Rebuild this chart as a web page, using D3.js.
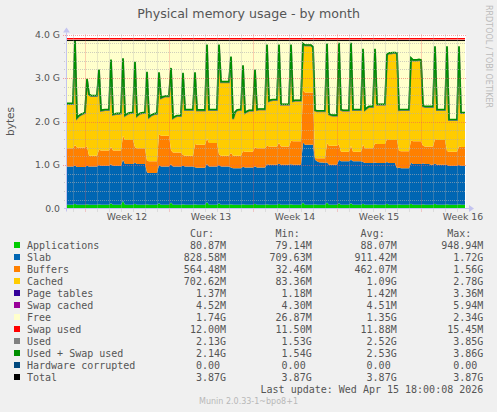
<!DOCTYPE html>
<html>
<head>
<meta charset="utf-8">
<script src="https://cdn.jsdelivr.net/npm/d3@7"></script>
<style>
  body { margin: 0; background: #f0f0f0; }
  svg { display: block; font-family: "DejaVu Sans", sans-serif; }
  .mono { font-family: "DejaVu Sans Mono", monospace; font-size: 10px; fill: #555; }
</style>
</head>
<body>
<div id="chart"></div>
<script>
// samples every 4 hours, first one at Mar 14 2026 12:00 UTC
const startTime = new Date(Date.UTC(2026, 2, 14, 12, 0));
const endTime = new Date(Date.UTC(2026, 3, 16, 18, 0));
const stepHours = 4;

// values in G, one row = one day (6 samples)
const apps = [
  .085,.085,.085,.085,.11,.085, .085,.085,.085,.085,.10,.085, .085,.085,.085,.085,.10,.085,
  .085,.085,.085,.085,.12,.085, .085,.085,.085,.085,.18,.085, .085,.085,.085,.085,.11,.085,
  .085,.085,.085,.085,.10,.085, .085,.085,.085,.085,.12,.085, .085,.085,.085,.085,.14,.085,
  .085,.085,.085,.085,.10,.085, .085,.085,.085,.085,.10,.085, .085,.085,.085,.085,.15,.085,
  .085,.085,.085,.085,.12,.085, .085,.085,.085,.085,.10,.085, .085,.085,.085,.085,.10,.085,
  .085,.085,.085,.085,.11,.085, .085,.085,.085,.085,.10,.085, .085,.085,.085,.085,.11,.085,
  .085,.085,.085,.085,.10,.085, .085,.085,.085,.085,.14,.085, .085,.085,.085,.085,.10,.085,
  .085,.085,.085,.085,.14,.085, .085,.085,.085,.085,.12,.085, .085,.085,.085,.085,.12,.085,
  .085,.085,.085,.085,.11,.085, .085,.085,.085,.085,.10,.085, .085,.085,.085,.085,.11,.085,
  .085,.085,.085,.085,.10,.085, .085,.085,.085,.085,.11,.085, .085,.085,.085,.085,.10,.085,
  .085,.085,.085,.085,.11,.085, .085,.085,.085,.085,.10,.085, .085,.085,.085,.085,.10,.085,
  .085,.085
];
const slab = [
  .88,.88,.88,.88,.88,.87, .87,.87,.87,.87,.88,.88, .88,.88,.88,.88,.90,.90,
  .90,.90,.90,.90,.90,.90, .90,.90,.90,.90,.94,.94, .94,.94,.94,.94,.94,.94,
  .94,.94,.94,.94,.73,.73, .73,.73,.73,.73,.88,.88, .88,.88,.88,.88,.88,.88,
  .88,.88,.88,.88,.88,.88, .88,.88,.88,.88,.85,.85, .85,.85,.85,.85,.88,.88,
  .88,.88,.88,.88,.88,.88, .88,.88,.88,.88,.84,.84, .84,.84,.84,.84,.86,.86,
  .86,.86,.86,.86,.86,.86, .86,.86,.86,.86,.92,.92, .92,.92,.92,.92,.92,.92,
  .92,.92,.92,.92,.92,.92, .92,.92,.92,.92,1.38,1.38, 1.38,1.38,1.38,1.38,1.02,1.00,
  .98,.97,.97,.96,.92,.92, .92,.92,.92,.92,1.00,1.00, 1.00,1.00,1.00,1.00,1.00,1.00,
  1.00,1.00,1.00,1.00,.96,.96, .96,.96,.96,.96,.96,.96, .96,.96,.96,.96,.96,.96,
  .96,.96,.96,.84,.84,.84, .84,.84,.84,.84,.94,.94, .94,.94,.94,.94,.94,.94,
  .94,.94,.92,.92,.92,.92, .92,.92,.92,.92,.90,.90, .90,.90,.90,.90,.90,.90,
  .90,.90
];
const buffers = [
  .42,.42,.42,.42,.47,.45, .45,.45,.45,.45,.45,.25, .25,.25,.25,.25,.35,.35,
  .35,.35,.35,.35,.40,.35, .35,.35,.35,.35,.55,.55, .55,.55,.55,.55,.36,.36,
  .36,.36,.36,.36,.27,.27, .27,.27,.27,.27,.71,.71, .71,.71,.71,.71,.32,.32,
  .32,.32,.32,.32,.25,.25, .25,.25,.25,.25,.53,.53, .53,.53,.53,.53,.58,.54,
  .54,.54,.54,.54,.25,.25, .25,.25,.25,.25,.34,.29, .29,.29,.29,.29,.36,.36,
  .36,.36,.36,.36,.44,.44, .44,.44,.44,.44,.42,.42, .42,.42,.42,.42,.48,.42,
  .42,.42,.42,.42,.54,.54, .54,.54,.54,.54,1.20,1.20, 1.20,1.20,1.20,1.20,.04,.07,
  .09,.10,.10,.11,.44,.44, .44,.44,.44,.44,.35,.22, .22,.22,.22,.22,.32,.22,
  .22,.22,.22,.22,.40,.34, .34,.34,.34,.34,.44,.44, .44,.44,.44,.44,.53,.53,
  .53,.53,.53,.65,.39,.39, .39,.39,.39,.39,.52,.52, .52,.52,.52,.52,.40,.40,
  .40,.40,.42,.42,.57,.57, .57,.57,.57,.57,.32,.32, .32,.32,.32,.32,.43,.43,
  .43,.43
];
const cached = [
  1.02,1.02,1.02,1.02,2.39,.67, .72,.75,.77,.79,1.54,1.40, 1.37,1.37,1.37,1.37,1.83,.91,
  .92,.93,.93,.93,1.99,.82, .83,.84,.84,.85,1.77,.56, .59,.61,.62,.62,1.95,.74,
  .78,.80,.81,.81,2.03,1.01, 1.05,1.07,1.09,1.09,1.41,.86, .88,.90,.90,.90,1.88,.79,
  .82,.84,.84,.84,1.88,1.05, 1.05,1.05,1.05,1.05,1.64,.79, .79,.79,.79,.79,2.15,.76,
  .76,.76,.76,.76,2.51,1.69, 1.69,1.69,1.69,1.69,2.20,.84, .99,1.04,1.05,1.05,1.96,.89,
  .92,.94,.94,.94,1.77,.88, .89,.89,.89,.89,2.32,1.04, 1.06,1.07,1.07,1.07,2.25,.96,
  .96,.96,.96,.96,2.20,.92, .93,.93,.93,.93,1.06,1.08, 1.08,1.08,1.08,1.04,1.09,1.08,
  1.08,1.08,1.08,1.08,2.28,.72, .70,.69,.69,.69,2.33,.96, .94,.94,.94,.94,2.36,.96,
  .96,.96,.96,.96,2.19,.88, .92,.95,.95,.95,2.16,.90, .90,.90,.90,.90,1.93,1.99,
  1.99,2.00,2.00,1.99,.93,.95, .95,.95,.95,.95,1.88,1.86, 1.86,1.86,1.87,1.86,.91,.91,
  .91,.91,.91,.91,2.12,.69, .69,.69,.69,.69,2.40,.73, .73,.73,.73,.73,2.29,.78,
  .78,.78
];
const swapUsed = 0.012;
const totalMem = 3.87;

const weekLabels = ["Week 12", "Week 13", "Week 14", "Week 15", "Week 16"];
const yTicks = [0, 1, 2, 3, 4];
const yTickLabels = ["0.0", "1.0 G", "2.0 G", "3.0 G", "4.0 G"];

const legendNames = ["Applications", "Slab", "Buffers", "Cached", "Page tables", "Swap cached",
  "Free", "Swap used", "Used", "Used + Swap used", "Hardware corrupted", "Total"];
const legendColors = ["#00cc00", "#0066b3", "#ff8000", "#ffcc00", "#330099", "#990099",
  "#ffffcc", "#ff0000", "#808080", "#008f00", "#00487d", "#000000"];
const curVals = ["80.87M", "828.58M", "564.48M", "702.62M", "1.37M", "4.52M", "1.74G", "12.00M", "2.13G", "2.14G", "0.00", "3.87G"];
const minVals = ["79.14M", "709.63M", "32.46M", "83.36M", "1.18M", "4.30M", "26.87M", "11.50M", "1.53G", "1.54G", "0.00", "3.87G"];
const avgVals = ["88.07M", "911.42M", "462.07M", "1.09G", "1.42M", "4.51M", "1.35G", "11.88M", "2.52G", "2.53G", "0.00", "3.87G"];
const maxVals = ["948.94M", "1.72G", "1.56G", "2.78G", "3.36M", "5.94M", "2.34G", "15.45M", "3.85G", "3.86G", "0.00", "3.87G"];
const statHeads = ["Cur:", "Min:", "Avg:", "Max:"];

const W = 497, H = 412;
const plotLeft = 67, plotRight = 466, plotTop = 34.5, plotBottom = 208.5;

const x = d3.scaleUtc().domain([startTime, endTime]).range([plotLeft, plotRight]);
const y = d3.scaleLinear().domain([0, 4]).range([plotBottom, plotTop]);

const rows = apps.map((a, i) => ({
  t: d3.utcHour.offset(startTime, i * stepHours),
  apps: a, slab: slab[i], buffers: buffers[i], cached: cached[i]
}));
const series = d3.stack().keys(["apps", "slab", "buffers", "cached"])(rows);
const used = series[3].map(d => ({ t: d.data.t, v: d[1] }));

const svg = d3.select("#chart").append("svg").attr("width", W).attr("height", H);
svg.append("rect").attr("width", W).attr("height", H).attr("fill", "#f0f0f0");

svg.append("clipPath").attr("id", "plot")
  .append("rect").attr("x", plotLeft).attr("y", plotTop - 2)
  .attr("width", plotRight - plotLeft).attr("height", plotBottom - plotTop + 2);

// canvas
svg.append("rect").attr("x", plotLeft).attr("y", plotTop)
  .attr("width", plotRight - plotLeft).attr("height", plotBottom - plotTop)
  .attr("fill", "#ffffff");

const g = svg.append("g").attr("clip-path", "url(#plot)");

const area = d3.area().x(d => x(d.data.t)).y0(d => y(d[0])).y1(d => y(d[1]));
g.selectAll("path.layer")
  .data(series)
  .enter()
  .append("path")
    .attr("class", "layer")
    .attr("d", area)
    .attr("fill", (d, i) => legendColors[i]);

// free: from used up to total
g.append("path")
  .datum(used)
  .attr("d", d3.area().x(d => x(d.t)).y0(d => y(d.v)).y1(y(totalMem)))
  .attr("fill", "#ffffcc");

// grid on top of the areas
const minorCol = "rgba(175,175,175,0.6)";
const majorCol = "rgba(240,90,90,0.55)";
const minorY = d3.range(1, 20).map(k => k * 0.2).filter(v => Math.abs(v - Math.round(v)) > 1e-6);
svg.append("g").selectAll("line").data(minorY).enter().append("line")
  .attr("x1", plotLeft - 3).attr("x2", plotRight)
  .attr("y1", d => Math.round(y(d)) + 0.5).attr("y2", d => Math.round(y(d)) + 0.5)
  .attr("stroke", minorCol).attr("stroke-dasharray", "1,1");

const days = d3.utcDay.range(startTime, endTime).filter(d => d.getUTCDay() !== 1);
svg.append("g").selectAll("line").data(days).enter().append("line")
  .attr("x1", d => Math.round(x(d)) + 0.5).attr("x2", d => Math.round(x(d)) + 0.5)
  .attr("y1", plotTop).attr("y2", plotBottom + 3)
  .attr("stroke", minorCol).attr("stroke-dasharray", "1,1");

svg.append("g").selectAll("line").data(yTicks.slice(1)).enter().append("line")
  .attr("x1", plotLeft - 4).attr("x2", plotRight)
  .attr("y1", d => Math.round(y(d)) + 0.5).attr("y2", d => Math.round(y(d)) + 0.5)
  .attr("stroke", majorCol).attr("stroke-dasharray", "1,1");

const mondays = d3.utcMonday.range(startTime, endTime);
svg.append("g").selectAll("line").data(mondays).enter().append("line")
  .attr("x1", d => Math.round(x(d)) + 0.5).attr("x2", d => Math.round(x(d)) + 0.5)
  .attr("y1", plotTop).attr("y2", plotBottom + 4)
  .attr("stroke", majorCol).attr("stroke-dasharray", "1,1");

// lines
const line = d3.line().x(d => x(d.t)).y(d => y(d.v));
g.append("path").datum(used).attr("d", line)
  .attr("fill", "none").attr("stroke", "#808080").attr("stroke-width", 2);
g.append("path").datum(used.map(d => ({ t: d.t, v: d.v + swapUsed }))).attr("d", line)
  .attr("fill", "none").attr("stroke", "#008f00").attr("stroke-width", 1.6);
g.append("path").datum(used.map(d => ({ t: d.t, v: totalMem }))).attr("d", line)
  .attr("fill", "none").attr("stroke", "#000000").attr("stroke-width", 1)
  .attr("transform", "translate(0,0.4)");
g.append("path").datum(used.map(d => ({ t: d.t, v: totalMem + swapUsed }))).attr("d", line)
  .attr("fill", "none").attr("stroke", "#ff0000").attr("stroke-width", 1.6)
  .attr("transform", "translate(0,-0.9)");

// axes
const axisCol = "#c4c4f0";
svg.append("line").attr("x1", plotLeft - 3).attr("x2", plotRight + 4)
  .attr("y1", plotBottom).attr("y2", plotBottom).attr("stroke", axisCol);
svg.append("path")
  .attr("d", `M${plotRight + 8},${plotBottom} L${plotRight + 3},${plotBottom - 3.5} L${plotRight + 3},${plotBottom + 3.5} Z`)
  .attr("fill", axisCol);
svg.append("line").attr("x1", plotLeft - 0.5).attr("x2", plotLeft - 0.5)
  .attr("y1", plotBottom + 3).attr("y2", plotTop - 2).attr("stroke", axisCol);
svg.append("path")
  .attr("d", `M${plotLeft - 0.5},${plotTop - 7} L${plotLeft - 4},${plotTop - 2} L${plotLeft + 3},${plotTop - 2} Z`)
  .attr("fill", axisCol);

// tick labels
svg.append("g").selectAll("text").data(yTicks).enter().append("text")
  .attr("x", 60).attr("y", d => y(d) + 3.4)
  .attr("text-anchor", "end").attr("font-size", "9.3px").attr("fill", "#555")
  .text((d, i) => yTickLabels[i]);

svg.append("g").selectAll("text").data(mondays).enter().append("text")
  .attr("x", d => x(d3.utcHour.offset(d, 84)))
  .attr("y", 220)
  .attr("text-anchor", "middle").attr("font-size", "9.3px").attr("fill", "#555")
  .text((d, i) => weekLabels[i]);

// titles
svg.append("text").attr("x", W / 2).attr("y", 17.5).attr("text-anchor", "middle")
  .attr("font-size", "12.6px").attr("fill", "#555").text("Physical memory usage - by month");
svg.append("text").attr("transform", `translate(13.5,${(plotTop + plotBottom) / 2}) rotate(-90)`)
  .attr("text-anchor", "middle").attr("font-size", "10.5px").attr("fill", "#555").text("bytes");
svg.append("text").attr("transform", "translate(486,5) rotate(90)")
  .attr("font-size", "8px").attr("fill", "#bbbbbb").text("RRDTOOL / TOBI OETIKER");

// legend
const colRight = [226, 311.7, 396.7, 483.3];
const stats = [curVals, minVals, avgVals, maxVals];
const lg = svg.append("g").attr("class", "legend");
statHeads.forEach((h, c) => {
  lg.append("text").attr("class", "mono").attr("x", colRight[c] - 12).attr("y", 237)
    .attr("text-anchor", "end").text(h);
});
legendNames.forEach((name, k) => {
  const by = 249 + 12 * k;
  lg.append("rect").attr("x", 14).attr("y", by - 7).attr("width", 6).attr("height", 6)
    .attr("fill", legendColors[k]);
  lg.append("text").attr("class", "mono").attr("x", 27).attr("y", by).text(name);
  stats.forEach((vals, c) => {
    const v = vals[k];
    lg.append("text").attr("class", "mono").attr("x", colRight[c]).attr("y", by)
      .attr("text-anchor", "end")
      .text(/[MG]$/.test(v) ? v : v + "\u00a0");
  });
});
lg.append("text").attr("class", "mono").attr("x", 483.3).attr("y", 393).attr("text-anchor", "end")
  .text("Last update: Wed Apr 15 18:00:08 2026");
svg.append("text").attr("x", W / 2).attr("y", 404).attr("text-anchor", "middle")
  .attr("font-size", "8px").attr("fill", "#b8b8b8").text("Munin 2.0.33-1~bpo8+1");
</script>
</body>
</html>
